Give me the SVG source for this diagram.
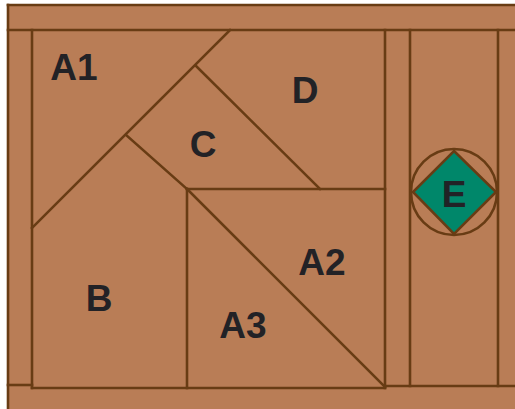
<svg xmlns="http://www.w3.org/2000/svg" width="515" height="409" viewBox="0 0 515 409">
<style>
.ln{stroke:#683c14;stroke-width:2.6;fill:none;stroke-linecap:square}
.lb{font-family:"Liberation Sans",Arial,sans-serif;font-weight:bold;font-size:37px;fill:#222226;text-anchor:middle;dominant-baseline:central}
</style>
<rect x="0" y="0" width="515" height="409" fill="#ffffff"/>
<rect x="8" y="5" width="507" height="404" fill="#b97d56"/>
<g id="connectors">
<line class="ln" x1="8" y1="5" x2="515" y2="5"/>
<line class="ln" x1="8" y1="5" x2="8" y2="409"/>
<line class="ln" x1="8" y1="30" x2="515" y2="30"/>
<line class="ln" x1="32" y1="30" x2="32" y2="388"/>
<line class="ln" x1="8" y1="385" x2="32" y2="385"/>
<line class="ln" x1="32" y1="388" x2="385" y2="388"/>
<line class="ln" x1="385" y1="386" x2="515" y2="386"/>
<line class="ln" x1="385" y1="30" x2="385" y2="388"/>
<line class="ln" x1="410" y1="30" x2="410" y2="386"/>
<line class="ln" x1="498" y1="30" x2="498" y2="386"/>
<line class="ln" x1="230" y1="30" x2="32" y2="228"/>
<line class="ln" x1="196" y1="66" x2="320" y2="189"/>
<line class="ln" x1="126" y1="135" x2="187" y2="189"/>
<line class="ln" x1="187" y1="189" x2="385" y2="189"/>
<line class="ln" x1="187" y1="189" x2="187" y2="388"/>
<line class="ln" x1="187" y1="189" x2="385" y2="387"/>
</g>
<g id="A1"><text class="lb" x="74" y="67">A1</text></g>
<g id="C"><text class="lb" x="203" y="144">C</text></g>
<g id="D"><text class="lb" x="305" y="90">D</text></g>
<g id="B"><text class="lb" x="99" y="298">B</text></g>
<g id="A2"><text class="lb" x="322" y="262">A2</text></g>
<g id="A3"><text class="lb" x="243" y="325">A3</text></g>
<g id="E">
<circle cx="454" cy="192" r="43" class="ln"/>
<polygon points="454,151 496,192 454,234 413,192" fill="#00876a" stroke="#683c14" stroke-width="2.6"/>
<text class="lb" x="454" y="194">E</text>
</g>
</svg>
